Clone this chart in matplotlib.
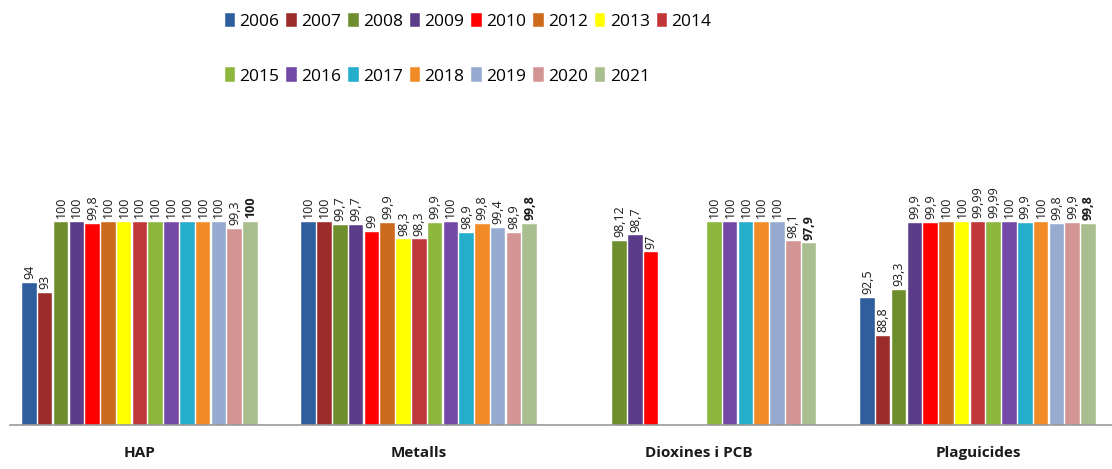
import numpy as np
import matplotlib.pyplot as plt

plt.rcParams['font.family'] = ['Open Sans', 'DejaVu Sans']

categories = ["HAP", "Metalls", "Dioxines i PCB", "Plaguicides"]
years = ["2006", "2007", "2008", "2009", "2010", "2012", "2013", "2014",
         "2015", "2016", "2017", "2018", "2019", "2020", "2021"]

nan = np.nan
# one list per category, one value per year (nan = no data)
hap = [94, 93, 100, 100, 99.8, 100, 100, 100, 100, 100, 100, 100, 100, 99.3, 100]
metalls = [100, 100, 99.7, 99.7, 99, 99.9, 98.3, 98.3, 99.9, 100, 98.9, 99.8, 99.4, 98.9, 99.8]
dioxines = [nan, nan, 98.12, 98.7, 97, nan, nan, nan, 100, 100, 100, 100, 100, 98.1, 97.9]
plaguicides = [92.5, 88.8, 93.3, 99.9, 99.9, 100, 100, 99.99, 99.99, 100, 99.9, 100, 99.8, 99.9, 99.8]

colors = ["#2E5E9E", "#9C2B2B", "#6E8E2E", "#5B3C88", "#FF0000", "#CC6A1E", "#FFFF00", "#C0373A",
          "#8CB63C", "#7448A6", "#24AECC", "#F28A26", "#95ABCF", "#D39494", "#A9BE8E"]

data = np.array([hap, metalls, dioxines, plaguicides])  # shape (4, 15)

fig = plt.figure(figsize=(11.12, 4.69), dpi=100)
ax = fig.add_axes([0.009, 0.094, 0.991, 0.629])

x = np.arange(len(categories))
step = 0.0565
width = 0.052
n = len(years)

handles = []
for i, year in enumerate(years):
    pos = x + (i - (n - 1) / 2) * step
    vals = data[:, i]
    bars = ax.bar(pos, vals, width, color=colors[i], edgecolor="white",
                  linewidth=0.3, label=year)
    handles.append(bars)
    for p, v in zip(pos, vals):
        if np.isnan(v):
            continue
        txt = ("%g" % v).replace(".", ",")
        ax.text(p, v + 0.35, txt, rotation=90, ha="center", va="bottom",
                fontsize=9, color="#1a1a1a",
                fontweight="bold" if i == n - 1 else "normal")

ax.set_ylim(80, 109.06)
ax.set_xlim(-0.465, 3.48)
ax.set_yticks([])
ax.set_xticks(x)
ax.set_xticklabels(categories, fontsize=11, fontweight="bold", color="#1a1a1a")
ax.tick_params(axis="x", length=0, pad=15)
for s in ["top", "right", "left"]:
    ax.spines[s].set_visible(False)
ax.spines["bottom"].set_color("#999999")
ax.spines["bottom"].set_linewidth(1.2)

# legend: 8 items in the first row, 7 in the second, filled row by row
row1 = list(range(8))
row2 = list(range(8, 15))
order = []
for k in range(7):
    order += [row1[k], row2[k]]
order.append(row1[7])
fig.legend([handles[k] for k in order], [years[k] for k in order],
           ncol=8, loc="upper left", bbox_to_anchor=(0.188, 1.006),
           frameon=False, fontsize=12.5, handlelength=0.6, handleheight=0.9,
           handletextpad=0.25, columnspacing=0.4, labelspacing=2.15)

fig.savefig("out.png", dpi=100)
